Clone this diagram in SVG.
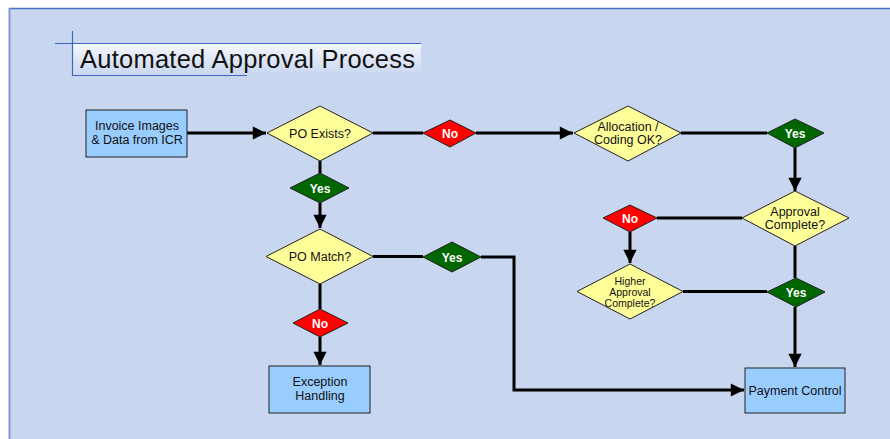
<svg xmlns="http://www.w3.org/2000/svg" width="890" height="439" viewBox="0 0 890 439">
  <defs>
    <linearGradient id="titleFill" x1="0" y1="0" x2="0" y2="1">
      <stop offset="0" stop-color="#F4F7FD"/>
      <stop offset="1" stop-color="#C8D6F0"/>
    </linearGradient>
    <marker id="arrow" viewBox="0 0 10 10" refX="10" refY="5" markerWidth="5" markerHeight="4.4" markerUnits="strokeWidth" orient="auto">
      <path d="M0,0 L10,5 L0,10 Z" fill="#000"/>
    </marker>
    <style>
      .box { fill: #99CCFF; stroke: #222; stroke-width: 1; }
      .dec { fill: #FFFF99; stroke: #222; stroke-width: 1; }
      .yes { fill: #006600; stroke: #222; stroke-width: 1; }
      .no { fill: #FF0000; stroke: #222; stroke-width: 1; }
      .t { font-family: "Liberation Sans", Arial, sans-serif; font-size: 12.5px; fill: #111; text-anchor: middle; }
      .ts { font-family: "Liberation Sans", Arial, sans-serif; font-size: 10.5px; fill: #111; text-anchor: middle; }
      .lbl { font-family: "Liberation Sans", Arial, sans-serif; font-size: 12px; font-weight: bold; fill: #fff; text-anchor: middle; }
      .conn { fill: none; stroke: #000; stroke-width: 3; }
      .tline { stroke: #3F66C0; stroke-width: 1.2; }
    </style>
  </defs>

  <!-- page and panel -->
  <rect x="0" y="0" width="890" height="439" fill="#FFFFFF"/>
  <rect x="9" y="8" width="881" height="431" fill="#C8D6F0"/>
  <line x1="9" y1="8.5" x2="890" y2="8.5" stroke="#4A72C4" stroke-width="1.5"/>
  <line x1="9.5" y1="8" x2="9.5" y2="439" stroke="#7C98D8" stroke-width="2"/>

  <!-- title -->
  <g id="title">
    <rect x="72" y="44" width="349" height="31" fill="url(#titleFill)"/>
    <line class="tline" x1="55" y1="43.5" x2="421" y2="43.5"/>
    <line class="tline" x1="72.5" y1="31" x2="72.5" y2="75"/>
    <line class="tline" x1="72" y1="75.5" x2="247" y2="75.5"/>
    <text x="80" y="68" font-family="'Liberation Sans', Arial, sans-serif" font-size="25.5" fill="#111" textLength="335">Automated Approval Process</text>
  </g>

  <!-- connectors -->
  <g id="connectors">
    <path class="conn" d="M187,133 H266" marker-end="url(#arrow)"/>
    <path class="conn" d="M373,133 H423"/>
    <path class="conn" d="M476,133 H573" marker-end="url(#arrow)"/>
    <path class="conn" d="M681,133 H767"/>
    <path class="conn" d="M795,148 V191" marker-end="url(#arrow)"/>
    <path class="conn" d="M320,161 V173"/>
    <path class="conn" d="M320,203 V228" marker-end="url(#arrow)"/>
    <path class="conn" d="M320,284 V309"/>
    <path class="conn" d="M320,337 V365" marker-end="url(#arrow)"/>
    <path class="conn" d="M373,256.5 H423"/>
    <path class="conn" d="M481,257 H514 V390 H744" marker-end="url(#arrow)"/>
    <path class="conn" d="M742,218 H657"/>
    <path class="conn" d="M630,232 V263" marker-end="url(#arrow)"/>
    <path class="conn" d="M683,291.5 H767"/>
    <path class="conn" d="M795,246 V278"/>
    <path class="conn" d="M795,307 V367" marker-end="url(#arrow)"/>
  </g>

  <!-- nodes -->
  <g id="invoice">
    <rect class="box" x="86" y="110" width="101" height="47"/>
    <text class="t" x="137" y="130">Invoice Images</text>
    <text class="t" x="137" y="144">&amp; Data from ICR</text>
  </g>
  <g id="po-exists">
    <polygon class="dec" points="267,133 320,106 373,133 320,161"/>
    <text class="t" x="320" y="138">PO Exists?</text>
  </g>
  <g id="yes-po-exists">
    <polygon class="yes" points="290,188 320,173 349,188 320,203"/>
    <text class="lbl" x="320" y="192.5">Yes</text>
  </g>
  <g id="po-match">
    <polygon class="dec" points="266,256.5 320,229 373,256.5 320,284"/>
    <text class="t" x="320" y="261">PO Match?</text>
  </g>
  <g id="no-po-match">
    <polygon class="no" points="293,323 320,309 348,323 320,337"/>
    <text class="lbl" x="320" y="327.5">No</text>
  </g>
  <g id="exception">
    <rect class="box" x="269" y="366" width="101" height="47"/>
    <text class="t" x="320" y="386">Exception</text>
    <text class="t" x="320" y="400">Handling</text>
  </g>
  <g id="yes-po-match">
    <polygon class="yes" points="423,257 452,242 481,257 452,272"/>
    <text class="lbl" x="452" y="261.5">Yes</text>
  </g>
  <g id="no-po-exists">
    <polygon class="no" points="423,133 450,120 476,133 450,147"/>
    <text class="lbl" x="450" y="137.5">No</text>
  </g>
  <g id="allocation">
    <polygon class="dec" points="574,133 628,106 681,133 628,161"/>
    <text class="t" x="628" y="131">Allocation /</text>
    <text class="t" x="628" y="144">Coding OK?</text>
  </g>
  <g id="yes-allocation">
    <polygon class="yes" points="767,133 795,119 824,133 795,148"/>
    <text class="lbl" x="795" y="137.5">Yes</text>
  </g>
  <g id="approval">
    <polygon class="dec" points="742,218 795,191 849,218 795,246"/>
    <text class="t" x="795" y="216">Approval</text>
    <text class="t" x="795" y="229">Complete?</text>
  </g>
  <g id="no-approval">
    <polygon class="no" points="603,218 630,205 657,218 630,232"/>
    <text class="lbl" x="630" y="222.5">No</text>
  </g>
  <g id="higher-approval">
    <polygon class="dec" points="577,291.5 630,264 683,291.5 630,319"/>
    <text class="ts" x="630" y="285">Higher</text>
    <text class="ts" x="630" y="296">Approval</text>
    <text class="ts" x="630" y="307">Complete?</text>
  </g>
  <g id="yes-higher">
    <polygon class="yes" points="767,292 796,278 825,292 796,307"/>
    <text class="lbl" x="796" y="296.5">Yes</text>
  </g>
  <g id="payment">
    <rect class="box" x="745" y="368" width="100" height="45"/>
    <text class="t" x="795" y="395">Payment Control</text>
  </g>
</svg>
